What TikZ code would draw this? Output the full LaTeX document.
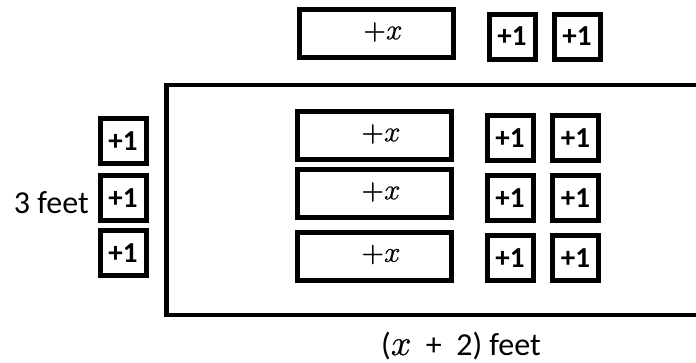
\documentclass[tikz,border=0pt]{standalone}
\usepackage{fontspec}
\setmainfont{Carlito}
\newfontfamily\lmmath[FakeBold=0.6]{latinmodern-math.otf}
\newcommand{\varx}{{\lmmath\fontsize{36}{36}\selectfont 𝑥}}
\begin{document}
\begin{tikzpicture}[x=1pt,y=-1pt,
  tile/.style={draw=black,line width=5pt,fill=white,rectangle,inner sep=0pt},
  xtile/.style={tile,minimum width=154pt,minimum height=48pt},
  unittile/.style={tile,minimum width=46pt,minimum height=45pt,
    font=\fontsize{29}{29}\selectfont\bfseries},
  xlabel/.style={font=\fontsize{29}{29}\selectfont\lmmath},
  dimlabel/.style={font=\fontsize{32}{32}\selectfont,inner sep=0pt}]
\useasboundingbox (0,0) rectangle (696,362);
\clip (0,0) rectangle (696,362);

% the field: open to the right
\draw[line width=4.5pt] (720,85) -- (166.5,85) -- (166.5,315) -- (720,315);

% spare tiles above the field
\node[xtile] (tx) at (376.5,33.5) {};
\node[xlabel] at (383,32) {+𝑥};
\node[unittile] (tu1) at (512,36.5) {+1};
\node[unittile] (tu2) at (577,36.5) {+1};

% tiles inside the field
\foreach \r/\y in {1/135.5,2/193.5,3/256} {
  \node[xtile] (x\r) at (374.5,\y) {};
  \node[xlabel] at (381,\y-1.5) {+𝑥};
}
\foreach \r/\y in {1/138,2/198,3/258} {
  \node[unittile] (a\r) at (510,\y) {+1};
  \node[unittile] (b\r) at (575.5,\y) {+1};
}

% width side tiles
\node[unittile] (l1) at (123,141) {+1};
\node[unittile] (l2) at (123,198) {+1};
\node[unittile] (l3) at (123,253) {+1};

% dimension labels
\node[dimlabel,anchor=base east] (h) at (89,213) {3 feet};
\node[dimlabel,anchor=base] (w) at (461,355) {(\varx\ \ +\ \ 2) feet};
\end{tikzpicture}
\end{document}
